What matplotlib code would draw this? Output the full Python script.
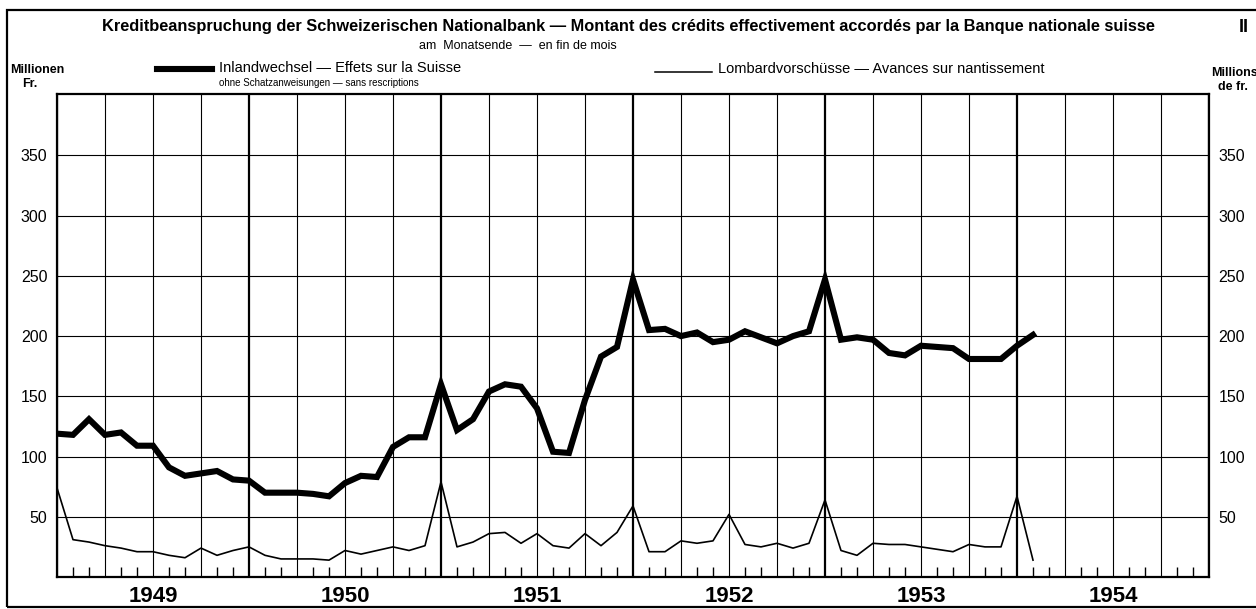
import matplotlib
matplotlib.use("Agg")
import matplotlib.pyplot as plt
from matplotlib.lines import Line2D
from matplotlib.patches import Rectangle
import numpy as np

# month-end values, Dec 1948 .. Jan 1954 (millions of francs)
inland = [119,
          118, 131, 118, 120, 109, 109, 91, 84, 86, 88, 81, 80,
          70, 70, 70, 69, 67, 78, 84, 83, 108, 116, 116, 160,
          122, 131, 154, 160, 158, 140, 104, 103, 147, 183, 191, 247,
          205, 206, 200, 203, 195, 197, 204, 199, 194, 200, 204, 247,
          197, 199, 197, 186, 184, 192, 191, 190, 181, 181, 181, 192,
          201]
lombard = [74,
           31, 29, 26, 24, 21, 21, 18, 16, 24, 18, 22, 25,
           18, 15, 15, 15, 14, 22, 19, 22, 25, 22, 26, 79,
           25, 29, 36, 37, 28, 36, 26, 24, 36, 26, 37, 59,
           21, 21, 30, 28, 30, 52, 27, 25, 28, 24, 28, 64,
           22, 18, 28, 27, 27, 25, 23, 21, 27, 25, 25, 67,
           14]
years = ['1949', '1950', '1951', '1952', '1953', '1954']
yticks = [50, 100, 150, 200, 250, 300, 350]

plt.rcParams['font.family'] = ['Liberation Sans', 'DejaVu Sans']

W, H = 1256, 609
fig = plt.figure(figsize=(W / 100, H / 100), dpi=100)

# outer frame of the plate
fig.add_artist(Rectangle((7 / W, 1 - 607 / H), 1.1, (607 - 10) / H, transform=fig.transFigure,
                         fill=False, lw=1.6, ec='black'))

ax = fig.add_axes([57 / W, 1 - 577 / H, 1152 / W, 483 / H])
x = np.arange(len(inland))

# grid: every quarter, heavier at year ends
n_months = 12 * len(years)
for m in range(0, n_months + 1, 3):
    ax.axvline(m, color='black', lw=1.6 if m % 12 == 0 else 0.8, zorder=1)
for v in yticks:
    ax.axhline(v, color='black', lw=0.8, zorder=1)

ax.plot(x, inland, color='black', lw=4.4, solid_joinstyle='miter', zorder=3)
ax.plot(x, lombard, color='black', lw=1.2, zorder=3)

ax.set_xlim(0, n_months)
ax.set_ylim(0, 401)
for s in ax.spines.values():
    s.set_linewidth(1.6)

ax.set_xticks(range(0, n_months + 1, 3))
ax.set_xticks(range(0, n_months + 1), minor=True)
ax.tick_params(axis='x', which='major', length=0, labelbottom=False)
ax.tick_params(axis='x', which='minor', direction='in', length=7, width=1, bottom=True)

ax.set_yticks(yticks)
ax.set_yticklabels([str(v) for v in yticks])
ax.tick_params(axis='y', length=0, labelsize=11.5, labelright=True, pad=7)

for i, yr in enumerate(years):
    ax.text(6 + 12 * i, -0.04, yr, transform=ax.get_xaxis_transform(),
            ha='center', va='center', fontsize=16, fontweight='bold')

# titles
fig.text(628 / W, 1 - 27 / H,
         'Kreditbeanspruchung der Schweizerischen Nationalbank \u2014 Montant des cr\u00e9dits '
         'effectivement accord\u00e9s par la Banque nationale suisse',
         ha='center', va='center', fontsize=11.8, fontweight='bold')
fig.text(1244 / W, 1 - 27 / H, 'II', ha='center', va='center', fontsize=13, fontweight='bold')
fig.text(518 / W, 1 - 46 / H, 'am  Monatsende  \u2014  en fin de mois', ha='center', va='center',
         fontsize=9)

# legend
fig.add_artist(Line2D([157 / W, 212 / W], [1 - 69 / H, 1 - 69 / H], color='black', lw=4.4,
                      transform=fig.transFigure))
fig.text(219 / W, 1 - 68 / H, 'Inlandwechsel \u2014 Effets sur la Suisse', ha='left', va='center',
         fontsize=10.5)
fig.text(219 / W, 1 - 83 / H, 'ohne Schatzanweisungen \u2014 sans rescriptions', ha='left', va='center',
         fontsize=7)
fig.add_artist(Line2D([655 / W, 712 / W], [1 - 72 / H, 1 - 72 / H], color='black', lw=1.1,
                      transform=fig.transFigure))
fig.text(718 / W, 1 - 69 / H, 'Lombardvorsch\u00fcsse \u2014 Avances sur nantissement', ha='left',
         va='center', fontsize=10.5)

# unit labels
fig.text(10 / W, 1 - 70 / H, 'Millionen', ha='left', va='center', fontsize=9, fontweight='bold')
fig.text(30 / W, 1 - 84 / H, 'Fr.', ha='center', va='center', fontsize=9, fontweight='bold')
fig.text(1211 / W, 1 - 73 / H, 'Millions', ha='left', va='center', fontsize=9, fontweight='bold')
fig.text(1233 / W, 1 - 87 / H, 'de fr.', ha='center', va='center', fontsize=9, fontweight='bold')

fig.savefig('out.png', dpi=100)
